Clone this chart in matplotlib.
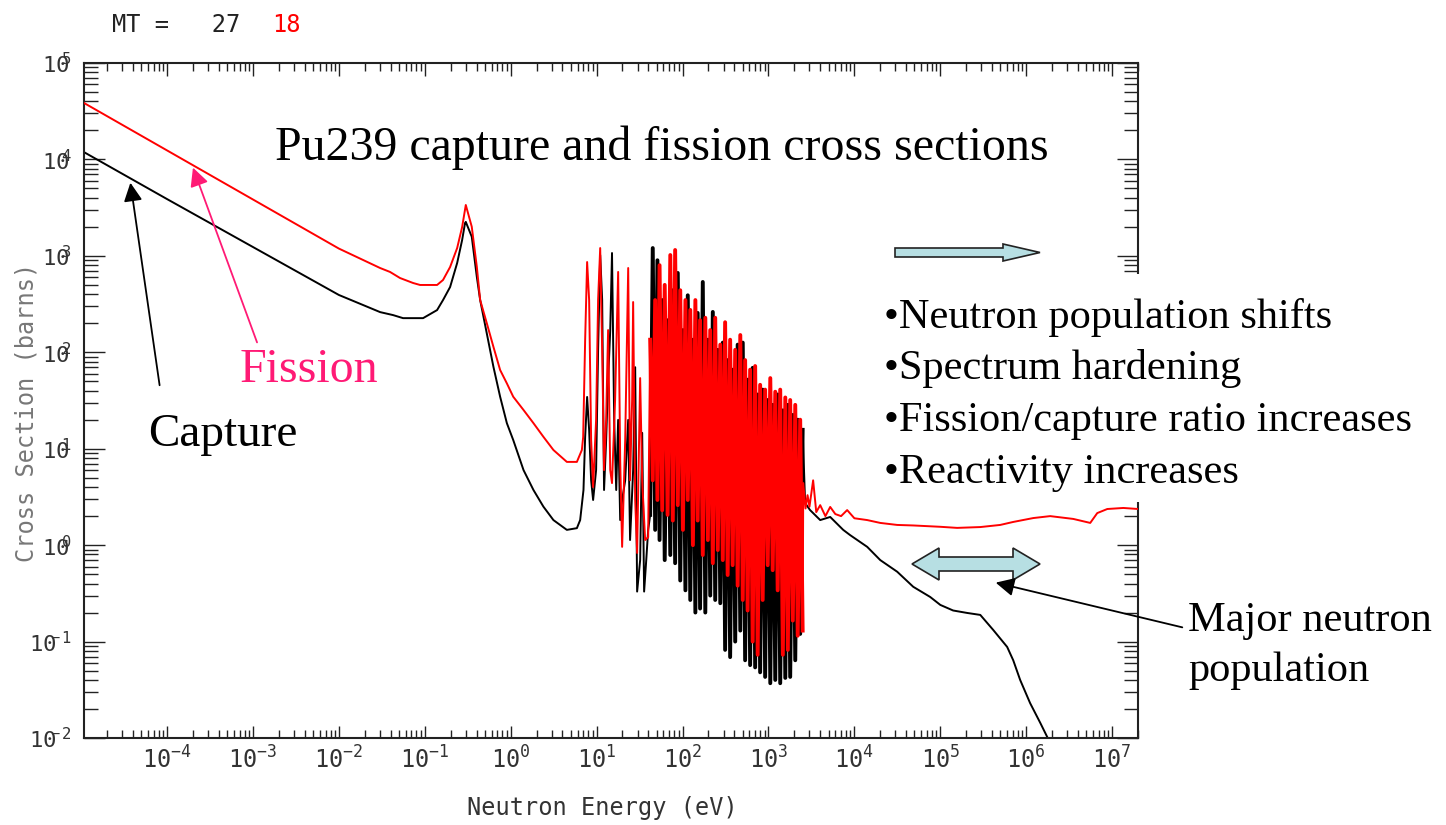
"""Pu239 capture (MT=27) and fission (MT=18) cross sections, log-log."""

import matplotlib

matplotlib.use("Agg")
import matplotlib.pyplot as plt
import numpy as np
from matplotlib.patches import Polygon, Rectangle
from matplotlib.ticker import FixedLocator, FuncFormatter, NullFormatter

# ---- capture (MT=27): energy in eV, cross section in barns
cap_low_e = [1.08e-5, 1e-4, 1e-3, 1e-2, 0.0302, 0.0428, 0.0558, 0.0955, 0.139,
             0.163, 0.197, 0.238, 0.272, 0.294, 0.30, 0.352, 0.403, 0.441,
             0.527, 0.629, 0.753, 0.902, 1.07, 1.41, 1.84, 2.40, 3.14, 4.50,
             5.89, 6.43, 7.03]
cap_low_xs = [11900, 3880, 1236, 393, 261, 243, 226, 226, 274,
              348, 475, 843, 1460, 2190, 2250, 1580, 608, 348,
              157, 70.8, 34.6, 18.4, 12.3, 6.0, 3.73, 2.51, 1.82, 1.44,
              1.50, 1.82, 3.73]
# first isolated resonances
cap_res1_e = [7.35, 7.75, 8.18, 8.63, 9.1, 9.86, 10.4, 11.0, 11.6, 12.2,
              12.9, 13.6, 14.4, 15.1, 16.0, 16.9, 17.8, 18.8, 19.8, 21.5,
              23.3, 24.5, 26.6, 28.1, 29.6, 32.1, 33.9, 35.7, 37.8, 39.8]
cap_res1_xs = [13.2, 34.4, 15.6, 4.7, 2.94, 6.0, 106, 1020, 348, 3.73,
               12.3, 51.6, 170, 1070, 19.9, 3.73, 19.9, 1.82, 2.94, 4.7,
               19.9, 1.13, 6.0, 70, 0.33, 0.70, 14.6, 0.33, 0.70, 1.44]
# dense resolved-resonance band, peaks and dips in turn
cap_res2_e = [42, 45, 48, 51, 54, 58, 62, 67, 72, 77,
              82, 88, 94, 101, 108, 115, 123, 132, 141, 150,
              160, 172, 184, 197, 210, 225, 240, 257, 275, 294,
              313, 335, 358, 383, 410, 438, 470, 502, 535, 572,
              612, 655, 700, 749, 800, 856, 915, 980, 1050, 1120,
              1200, 1280, 1370, 1470, 1570, 1680, 1790, 1920, 2050, 2190,
              2340, 2500]
cap_res2_xs = [2.06, 1205, 1.44, 900, 1.13, 348, 0.70, 215, 0.79, 440,
               0.65, 665, 0.43, 170, 0.34, 390, 0.27, 135, 0.20, 256,
               0.22, 536, 0.20, 135, 0.30, 262, 0.27, 106, 0.25, 126,
               0.082, 83, 0.069, 66, 0.10, 120, 0.13, 126, 0.064, 52,
               0.057, 69, 0.054, 36.5, 0.048, 41, 0.043, 32, 0.037, 28.5,
               0.040, 36.5, 0.037, 25, 0.042, 28.5, 0.043, 22.4, 0.064, 20,
               0.12, 15.7]
cap_fast_e = [2670, 3050, 4000, 5230, 7410, 8930, 1.41e4, 2.0e4, 3.15e4,
              4.84e4, 7.63e4, 1.0e5, 1.41e5, 2.06e5, 2.92e5, 4.13e5, 6.0e5,
              7.06e5, 8.5e5, 1.11e6, 1.46e6, 1.76e6, 2.5e6]
cap_fast_xs = [2.73, 2.31, 1.82, 1.96, 1.44, 1.27, 0.96, 0.70, 0.53,
               0.37, 0.29, 0.24, 0.21, 0.198, 0.189, 0.132, 0.088,
               0.064, 0.040, 0.023, 0.0143, 0.0102, 0.005]

# ---- fission (MT=18)
fis_low_e = [1.08e-5, 1e-4, 1e-3, 1e-2, 0.0302, 0.0394, 0.0515, 0.0731, 0.0881,
             0.139, 0.163, 0.197, 0.238, 0.272, 0.30, 0.352, 0.403, 0.441,
             0.527, 0.629, 0.753, 0.902, 1.07, 1.41, 1.84, 2.40, 3.14, 4.50,
             5.89, 6.73]
fis_low_xs = [38500, 12400, 3840, 1190, 748, 681, 589, 523, 499,
              499, 562, 766, 1205, 1990, 3370, 2006, 772, 348,
              200, 114, 65.5, 47.6, 34.6, 25.2, 18.4, 13.3, 9.7, 7.3,
              7.3, 9.7]
fis_res1_e = [6.97, 7.35, 7.75, 8.18, 8.63, 9.1, 9.86, 10.4, 11.0, 11.6,
              12.2, 12.9, 13.6, 14.4, 15.1, 16.4, 17.8, 18.8, 19.8, 21.5,
              23.3, 24.5, 25.9, 26.6, 28.1, 29.6, 32.1, 33.9, 36.7, 39.8]
fis_res1_xs = [13.2, 134, 863, 348, 12.3, 4.0, 19.9, 348, 1205, 106,
               6.0, 19.9, 170, 6.0, 4.4, 32, 681, 7.6, 0.96, 12.3,
               748, 4.7, 32, 332, 2.94, 0.83, 54, 4.7, 1.13, 1.21]
fis_res2_e = [42, 45, 48, 51, 54, 58, 62, 67, 72, 77,
              82, 88, 94, 101, 108, 115, 123, 132, 141, 150,
              160, 172, 184, 197, 210, 225, 240, 257, 275, 294,
              313, 335, 358, 383, 410, 438, 470, 502, 535, 572,
              612, 655, 700, 749, 800, 856, 915, 980, 1050, 1120,
              1200, 1280, 1370, 1470, 1570, 1680, 1790, 1920, 2050, 2190,
              2340, 2500]
fis_res2_xs = [135, 4.7, 348, 2.94, 800, 2.3, 500, 2.06, 1020, 1.8,
               1150, 2.6, 440, 1.44, 348, 2.94, 275, 1.0, 348, 1.8,
               215, 0.79, 228, 1.13, 170, 0.65, 228, 0.89, 120, 0.70,
               205, 0.49, 135, 0.62, 106, 0.38, 151, 0.27, 83, 0.21,
               66, 0.10, 72, 0.073, 46, 0.27, 41, 0.62, 54, 0.55,
               39, 0.34, 41, 0.073, 34, 0.082, 32, 0.165, 28.5, 0.115,
               20, 0.13]
fis_fast_e = [2540, 2700, 2850, 3000, 3310, 3600, 4000, 4600, 5230, 6000,
              7000, 8240, 1.0e4, 1.41e4, 2.0e4, 3.15e4, 4.84e4, 1.0e5, 1.57e5,
              2.92e5, 4.98e5, 7.06e5, 1.21e6, 1.9e6, 3.53e6, 5.56e6, 6.71e6,
              8.78e6, 1.35e7, 2.01e7]
fis_fast_xs = [4.4, 2.4, 3.3, 2.5, 4.7, 2.2, 2.6, 2.0, 2.49, 2.1,
               2.0, 2.31, 1.9, 1.82, 1.70, 1.62, 1.60, 1.55, 1.51,
               1.54, 1.62, 1.74, 1.91, 2.0, 1.87, 1.70, 2.15,
               2.37, 2.43, 2.37]

x_decades = list(range(-4, 8))
y_decades = list(range(-2, 6))
bullets = ["•Neutron population shifts", "•Spectrum hardening",
           "•Fission/capture ratio increases", "•Reactivity increases"]

MONO = "DejaVu Sans Mono"
SERIF = "Liberation Serif"
PINK = "#FF1A75"
ARROW_FILL = "#B7DFE3"

plt.rcParams["mathtext.fontset"] = "custom"
plt.rcParams["mathtext.rm"] = MONO
plt.rcParams["mathtext.it"] = MONO
plt.rcParams["mathtext.bf"] = MONO

W, H = 1446, 825
fig = plt.figure(figsize=(W / 100, H / 100), dpi=100)
ax = fig.add_axes([84 / W, 1 - 738 / H, 1054 / W, 675 / H])

cap_e = cap_low_e + cap_res1_e + cap_res2_e + cap_fast_e
cap_xs = cap_low_xs + cap_res1_xs + cap_res2_xs + cap_fast_xs
fis_e = fis_low_e + fis_res1_e + fis_res2_e + fis_fast_e
fis_xs = fis_low_xs + fis_res1_xs + fis_res2_xs + fis_fast_xs

# black first, red on top; the dense band is stroked wider so it reads as solid
ax.plot(cap_e, cap_xs, color="black", lw=1.4, zorder=2)
ax.plot(cap_res2_e, cap_res2_xs, color="black", lw=2.8, zorder=2)
ax.plot(fis_e, fis_xs, color="red", lw=1.4, zorder=3)
ax.plot(fis_res2_e, fis_res2_xs, color="red", lw=2.8, zorder=3)

ax.set_xscale("log")
ax.set_yscale("log")
ax.set_xlim(1.08e-5, 2.0e7)
ax.set_ylim(1e-2, 1e5)

# ticks only inside the frame: every decade, plus 2..9 between
subs = np.arange(2, 10)
x_minor = [m * 10.0 ** d for d in range(-5, 8) for m in subs if m * 10.0 ** d <= 2.0e7]
y_minor = [m * 10.0 ** d for d in range(-2, 5) for m in subs]
ax.xaxis.set_major_locator(FixedLocator([10.0 ** d for d in x_decades]))
ax.yaxis.set_major_locator(FixedLocator([10.0 ** d for d in y_decades]))
ax.xaxis.set_minor_locator(FixedLocator([v for v in x_minor if v >= 1.08e-5]))
ax.yaxis.set_minor_locator(FixedLocator(y_minor))
ax.xaxis.set_minor_formatter(NullFormatter())
ax.yaxis.set_minor_formatter(NullFormatter())

ax.xaxis.set_major_formatter(FuncFormatter(
    lambda v, pos: r"$\mathregular{10^{%d}}$" % round(np.log10(v))))
# y labels: exponent tucked over the "0", as in the plotting program
ax.yaxis.set_major_formatter(FuncFormatter(
    lambda v, pos: r"$\mathregular{10^{\!\!\!\!\!%d}}$" % round(np.log10(v))))

ax.tick_params(which="both", direction="in", top=True, right=True,
               color="#222222", labelcolor="#333333", labelsize=16,
               labelfontfamily=MONO)
ax.tick_params(axis="x", which="major", length=9, width=1, pad=6, labelsize=17)
ax.tick_params(axis="x", which="minor", length=6, width=1)
ax.tick_params(axis="y", which="major", length=15, width=1, pad=9)
ax.tick_params(axis="y", which="minor", length=10, width=1)
for s in ax.spines.values():
    s.set_linewidth(1.5)
    s.set_color("#222222")

ax.set_xlabel("Neutron Energy (eV)", fontfamily=MONO, fontsize=17, color="#333333")
ax.xaxis.label.set_va("center")
ax.xaxis.set_label_coords(0.492, -0.104)
ax.set_ylabel("Cross Section (barns)", fontfamily=MONO, fontsize=17, color="#777777")
ax.yaxis.label.set_va("center")
ax.yaxis.set_label_coords(-0.055, 0.483)

# ---- overlay in pixel coordinates for the slide annotations
ov = fig.add_axes([0, 0, 1, 1], zorder=5)
ov.set_xlim(0, W)
ov.set_ylim(H, 0)
ov.set_xticks([])
ov.set_yticks([])
ov.axis("off")

ov.text(112, 32, "MT =   27", fontfamily=MONO, fontsize=17, color="#222222", va="baseline")
ov.text(272, 32, "18", fontfamily=MONO, fontsize=17, color="red", va="baseline")

ov.text(275, 160, "Pu239 capture and fission cross sections", fontfamily=SERIF,
        fontsize=34.5, va="baseline")
ov.text(240, 382, "Fission", fontfamily=SERIF, fontsize=34.5, color=PINK, va="baseline")
ov.text(148, 446, "Capture", fontfamily=SERIF, fontsize=34, va="baseline")

ov.annotate("", xy=(130, 180), xytext=(160, 388),
            arrowprops=dict(arrowstyle="-|>", color="black", lw=1.3, mutation_scale=28))
ov.annotate("", xy=(192, 165), xytext=(258, 345),
            arrowprops=dict(arrowstyle="-|>", color=PINK, lw=1.3, mutation_scale=28))

ov.add_patch(Rectangle((868, 274), W - 868, 228, fc="white", ec="none"))
for i, line in enumerate(bullets):
    ov.text(884, 328 + 51.5 * i, line, fontfamily=SERIF, fontsize=30.5, va="baseline")

ov.add_patch(Polygon([(895, 248), (1003, 248), (1003, 244), (1040, 252.5),
                      (1003, 261), (1003, 257), (895, 257)],
                     closed=True, fc=ARROW_FILL, ec="#222222", lw=1.2))
ov.add_patch(Polygon([(912, 564), (939, 548), (939, 557), (1013, 557), (1013, 548),
                      (1040, 564), (1013, 580), (1013, 571), (939, 571), (939, 580)],
                     closed=True, fc=ARROW_FILL, ec="#222222", lw=1.2))

ov.text(1188, 631, "Major neutron", fontfamily=SERIF, fontsize=30.5, va="baseline")
ov.text(1188, 681, "population", fontfamily=SERIF, fontsize=30.5, va="baseline")
ov.annotate("", xy=(993, 582), xytext=(1185, 628),
            arrowprops=dict(arrowstyle="-|>", color="black", lw=1.3, mutation_scale=28))

fig.savefig("out.png", dpi=100)
